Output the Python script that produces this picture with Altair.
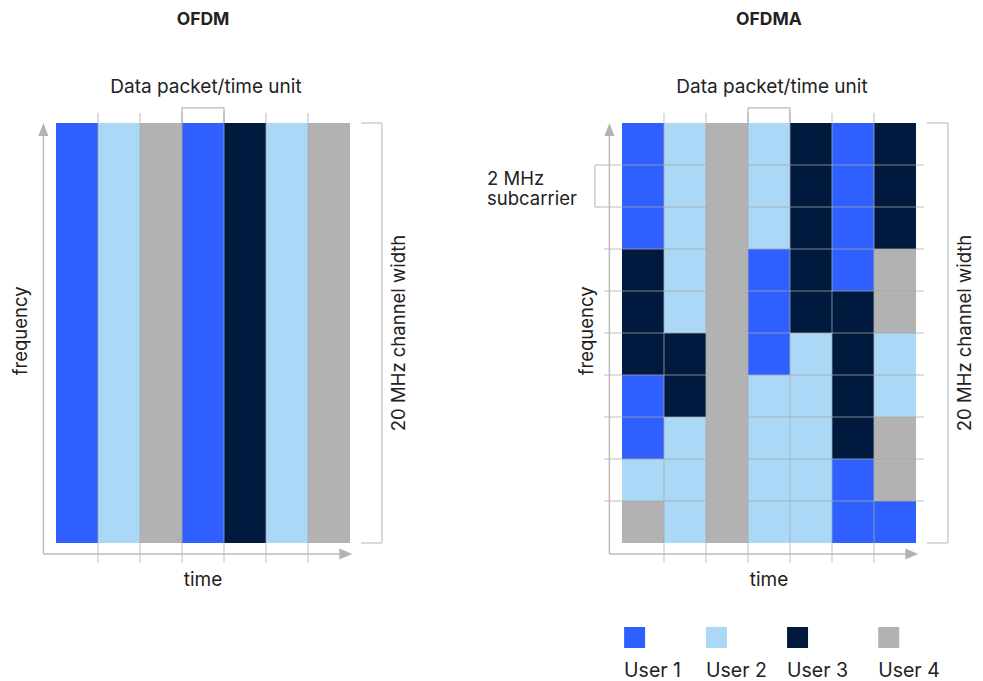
import altair as alt
import pandas as pd

# ---------------- data ----------------
USERS = ["User 1", "User 2", "User 3", "User 4"]
COLORS = ["#2f60ff", "#aad8f6", "#001a3f", "#b2b2b2"]

# OFDM: one user per time unit, whole channel
OFDM_SLOTS = ["User 1", "User 2", "User 4", "User 1", "User 3", "User 2", "User 4"]

# OFDMA: 10 subcarriers (top to bottom) x 7 time units
OFDMA_GRID = [
    ["User 1", "User 2", "User 4", "User 2", "User 3", "User 1", "User 3"],
    ["User 1", "User 2", "User 4", "User 2", "User 3", "User 1", "User 3"],
    ["User 1", "User 2", "User 4", "User 2", "User 3", "User 1", "User 3"],
    ["User 3", "User 2", "User 4", "User 1", "User 3", "User 1", "User 4"],
    ["User 3", "User 2", "User 4", "User 1", "User 3", "User 3", "User 4"],
    ["User 3", "User 3", "User 4", "User 1", "User 2", "User 3", "User 2"],
    ["User 1", "User 3", "User 4", "User 2", "User 2", "User 3", "User 2"],
    ["User 1", "User 2", "User 4", "User 2", "User 2", "User 3", "User 4"],
    ["User 2", "User 2", "User 4", "User 2", "User 2", "User 1", "User 4"],
    ["User 4", "User 2", "User 4", "User 2", "User 2", "User 1", "User 1"],
]

TITLES = ["OFDM", "OFDMA"]
PACKET_LABEL = "Data packet/time unit"
TIME_LABEL = "time"
FREQ_LABEL = "frequency"
WIDTH_LABEL = "20 MHz channel width"
SUB_LABEL = ["2 MHz", "subcarrier"]

# ---------------- layout (grid units: 1 unit = one cell) ----------------
N_T = len(OFDM_SLOTS)
N_F = len(OFDMA_GRID)
CELL = 42.0
W, H = 967, 673
X0_PX, Y0_PX = 48.0, 535.0       # position of (0, 0) of left panel in chart px
OFF = 13.476                     # x offset of right panel in grid units
PANELS = [0.0, OFF]

XS = alt.Scale(domain=[-X0_PX / CELL, (W - X0_PX) / CELL], nice=False, zero=False)
YS = alt.Scale(domain=[-(H - Y0_PX) / CELL, Y0_PX / CELL], nice=False, zero=False)
color = alt.Color("user:N", scale=alt.Scale(domain=USERS, range=COLORS), legend=None)
FONT = "Inter"
TXT = "#222222"

# cells
ofdm = pd.DataFrame({
    "user": OFDM_SLOTS,
    "x": [c for c in range(N_T)],
    "x2": [c + 1 for c in range(N_T)],
    "y": 0, "y2": N_F,
})
rows = []
for r, line in enumerate(OFDMA_GRID):
    for c, u in enumerate(line):
        rows.append({"user": u, "x": c + OFF, "x2": c + 1 + OFF,
                     "y": N_F - 1 - r, "y2": N_F - r})
ofdma = pd.DataFrame(rows)

# columns of OFDMA where one user holds the whole channel -> merged block
merged = []
for c in range(N_T):
    col = [OFDMA_GRID[r][c] for r in range(N_F)]
    if len(set(col)) == 1:
        merged.append({"user": col[0], "x": c + OFF, "x2": c + 1 + OFF, "y": 0, "y2": N_F})
merged = pd.DataFrame(merged)

def rect_layer(df):
    return alt.Chart(df).mark_rect(strokeWidth=0).encode(
        x=alt.X("x:Q", scale=XS, axis=None), x2="x2:Q",
        y=alt.Y("y:Q", scale=YS, axis=None), y2="y2:Q", color=color)

def seg_layer(df, col, width, opacity=1.0):
    return alt.Chart(df).mark_rule(color=col, strokeWidth=width, opacity=opacity).encode(
        x=alt.X("x:Q", scale=XS, axis=None), x2="x2:Q",
        y=alt.Y("y:Q", scale=YS, axis=None), y2="y2:Q")

# grid lines
vgrid, hgrid = [], []
for p in PANELS:
    for c in range(1, N_T):
        vgrid.append({"x": c + p, "x2": c + p, "y": -0.476, "y2": 10.238})
for f in range(1, N_F):
    hgrid.append({"x": -0.43 + OFF, "x2": 7.19 + OFF, "y": f, "y2": f})
vgrid = pd.DataFrame(vgrid)
hgrid = pd.DataFrame(hgrid)

# packet brackets, channel brackets, subcarrier bracket
br_dark, br_light = [], []
for p in PANELS:
    br_dark += [
        {"x": 3 + p, "x2": 3 + p, "y": N_F, "y2": 10.36},
        {"x": 4 + p, "x2": 4 + p, "y": N_F, "y2": 10.36},
        {"x": 3 + p, "x2": 4 + p, "y": 10.36, "y2": 10.36},
    ]
    br_light += [
        {"x": 7.26 + p, "x2": 7.76 + p, "y": N_F, "y2": N_F},
        {"x": 7.26 + p, "x2": 7.76 + p, "y": 0, "y2": 0},
        {"x": 7.76 + p, "x2": 7.76 + p, "y": 0, "y2": N_F},
    ]
br_light += [
    {"x": -0.645 + OFF, "x2": -0.645 + OFF, "y": 8, "y2": 9},
    {"x": -0.645 + OFF, "x2": -0.43 + OFF, "y": 8, "y2": 8},
    {"x": -0.645 + OFF, "x2": -0.43 + OFF, "y": 9, "y2": 9},
]
br_dark = pd.DataFrame(br_dark)
br_light = pd.DataFrame(br_light)

# axes with arrows
axes, arr_r, arr_u = [], [], []
for p in PANELS:
    axes += [
        {"x": -0.3 + p, "x2": 6.8 + p, "y": -0.262, "y2": -0.262},
        {"x": -0.3 + p, "x2": -0.3 + p, "y": -0.262, "y2": 9.75},
    ]
    arr_r.append({"x": 6.9 + p, "y": -0.262})
    arr_u.append({"x": -0.3 + p, "y": 9.845})
axes = pd.DataFrame(axes)

def arrow_layer(pts, shape):
    return alt.Chart(pd.DataFrame(pts)).mark_point(
        shape=shape, filled=True, size=169, color="#b3b3b3", opacity=1, strokeWidth=0
    ).encode(x=alt.X("x:Q", scale=XS, axis=None), y=alt.Y("y:Q", scale=YS, axis=None))

# texts
def text_layer(items, size, weight="normal", angle=0, align="center"):
    return alt.Chart(pd.DataFrame(items)).mark_text(
        font=FONT, fontSize=size, fontWeight=weight, color=TXT, angle=angle,
        align=align, baseline="middle"
    ).encode(x=alt.X("x:Q", scale=XS, axis=None), y=alt.Y("y:Q", scale=YS, axis=None),
             text="t:N")

titles = [{"t": TITLES[i], "x": 3.5 + p, "y": 12.46} for i, p in enumerate(PANELS)]
horiz = ([{"t": PACKET_LABEL, "x": 3.57 + p, "y": 10.86} for p in PANELS] +
         [{"t": TIME_LABEL, "x": 3.5 + p, "y": -0.88} for p in PANELS])
vert = ([{"t": FREQ_LABEL, "x": -0.83 + p, "y": 5.05} for p in PANELS] +
        [{"t": WIDTH_LABEL, "x": 8.16 + p, "y": 5.0} for p in PANELS])
sub = [{"t": SUB_LABEL[0], "x": -3.214 + OFF, "y": 8.667},
       {"t": SUB_LABEL[1], "x": -3.214 + OFF, "y": 8.19}]

# legend
LEG_X = [0.05, 2.0, 3.93, 6.1]
leg_sq = pd.DataFrame({"user": USERS, "x": [v + OFF for v in LEG_X],
                       "x2": [v + 0.5 + OFF for v in LEG_X], "y": -2.0, "y2": -2.5})
leg_tx = [{"t": u, "x": v + OFF, "y": -3.05} for u, v in zip(USERS, LEG_X)]

chart = alt.layer(
    rect_layer(ofdm),
    rect_layer(ofdma),
    seg_layer(hgrid, "#aaaaaa", 1, 0.75),
    rect_layer(merged),
    seg_layer(vgrid, "#aaaaaa", 1, 0.75),
    seg_layer(br_dark, "#a6a6a6", 1),
    seg_layer(br_light, "#c6c6c6", 1.3),
    seg_layer(axes, "#bdbdbd", 1.5),
    arrow_layer(arr_r, "M-1,-0.85L1,0L-1,0.85Z"),
    arrow_layer(arr_u, "M-0.77,1L0,-1L0.77,1Z"),
    text_layer(titles, 17.5, "bold"),
    text_layer(horiz, 19),
    text_layer(vert, 18.5, angle=270),
    text_layer(sub, 18.5, align="left"),
    rect_layer(leg_sq),
    text_layer(leg_tx, 19.5, align="left"),
).properties(
    width=W, height=H, autosize=alt.AutoSizeParams(type="none"), padding=0,
    background="white",
).configure_view(stroke=None)

chart.save("out.html", embed_options={"renderer": "svg", "actions": False})
